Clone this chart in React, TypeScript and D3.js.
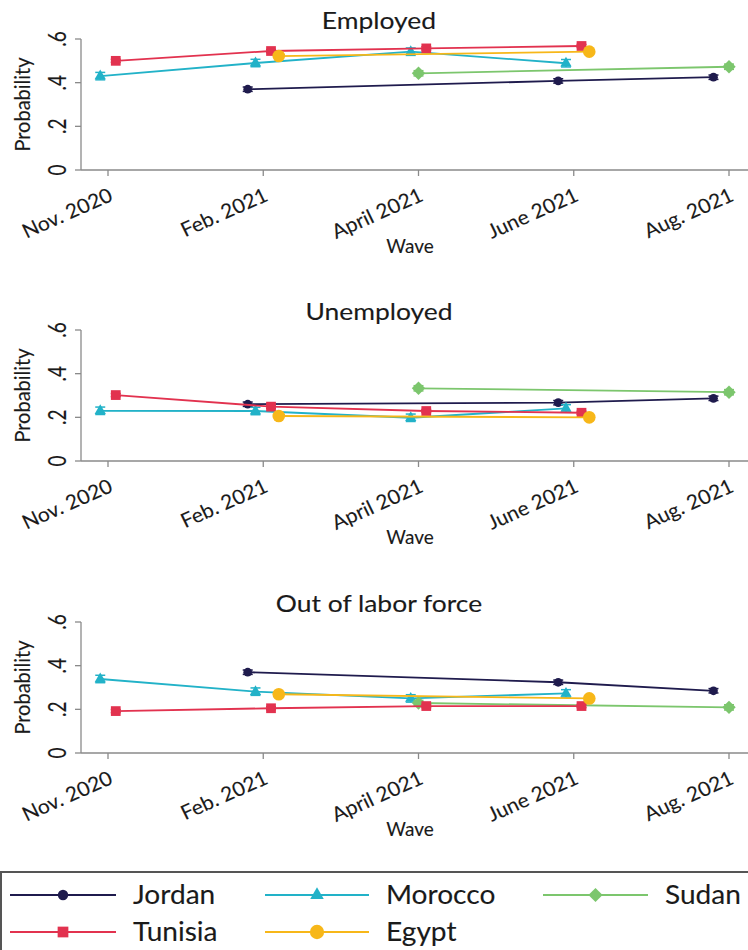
import React from 'react';
import * as d3 from 'd3';

const waves = ['Nov. 2020', 'Feb. 2021', 'April 2021', 'June 2021', 'Aug. 2021'];
const countries = ['Jordan', 'Tunisia', 'Morocco', 'Egypt', 'Sudan'];
const colors = ['#1f1b4d', '#e2324f', '#22b2c8', '#f7b719', '#7cc66d'];
const panelTitles = ['Employed', 'Unemployed', 'Out of labor force'];
const yTicks = [0, 0.2, 0.4, 0.6];

// rows follow `countries`, columns follow `waves`; null = no survey that wave
const employed = [
  [null, 0.37, null, 0.408, 0.425],
  [0.5, 0.545, 0.557, 0.568, null],
  [0.43, 0.49, 0.542, 0.489, null],
  [null, 0.522, null, 0.542, null],
  [null, null, 0.443, null, 0.473],
];
const unemployed = [
  [null, 0.26, null, 0.267, 0.287],
  [0.302, 0.249, 0.229, 0.221, null],
  [0.23, 0.229, 0.198, 0.241, null],
  [null, 0.206, null, 0.2, null],
  [null, null, 0.333, null, 0.315],
];
const outOfLF = [
  [null, 0.37, null, 0.324, 0.285],
  [0.192, 0.205, 0.215, 0.215, null],
  [0.339, 0.281, 0.25, 0.273, null],
  [null, 0.269, null, 0.25, null],
  [null, null, 0.229, null, 0.209],
];
// half width of the confidence interval, per country
const ciHalf = [0.01, 0.007, 0.017, 0.007, 0.012];

const panels = [employed, unemployed, outOfLF];

const W = 748;
const H = 950;
const FONT = 'Lato, "Open Sans", sans-serif';
const INK = '#1a1a1a';
const dodge = [-0.1, 0.05, -0.05, 0.1, 0];
const drawOrder = [0, 2, 4, 1, 3];

// square turned 45 degrees (Stata's diamond)
const diamond = {
  draw(ctx: any, size: number) {
    const r = Math.sqrt(size / 2);
    ctx.moveTo(0, -r);
    ctx.lineTo(r, 0);
    ctx.lineTo(0, r);
    ctx.lineTo(-r, 0);
    ctx.closePath();
  },
};
const symbols: any[] = [d3.symbolCircle, d3.symbolSquare, d3.symbolTriangle, d3.symbolCircle, diamond];
const plotSizes = [60, 95, 55, 125, 90];
const legendSizes = [85, 115, 80, 160, 100];

const x = d3.scaleLinear().domain([0, 4]).range([108, 729]);
const panelBase = [170, 461, 753];

const tf = (px: number, py: number, rot = 0, sx = 1) =>
  `translate(${px},${py}) scale(${sx},1) rotate(${rot})`;

const txt = { fill: INK, stroke: INK, strokeWidth: 0.12 };

function Panel({ data, title, y0 }: { data: (number | null)[][]; title: string; y0: number }) {
  const y = d3.scaleLinear().domain([0, 0.6]).range([y0, y0 - 131]);
  const line = d3.line<[number, number]>().x(d => d[0]).y(d => d[1]);
  return (
    <g>
      <text transform={tf(379, y0 - 141, 0, 1.15)} textAnchor="middle" fontSize={23} {...txt}>{title}</text>
      {/* axes */}
      <line x1={81} x2={W} y1={y0} y2={y0} stroke="#8a8a8a" strokeWidth={1.3} />
      <line x1={81} x2={81} y1={y0} y2={y(0.6)} stroke="#8a8a8a" strokeWidth={1.3} />
      {yTicks.map(t => (
        <g key={t}>
          <line x1={75} x2={81} y1={y(t)} y2={y(t)} stroke="#8a8a8a" strokeWidth={1.3} />
          <text transform={tf(66, y(t), -90, 1.3)} textAnchor="middle" fontSize={19} {...txt}>
            {t === 0 ? '0' : d3.format('.1f')(t).replace(/^0/, '')}
          </text>
        </g>
      ))}
      <text transform={tf(30, y(0.3), -90, 1.1)} textAnchor="middle" fontSize={20} {...txt}>Probability</text>
      {waves.map((w, i) => (
        <g key={w}>
          <line x1={x(i)} x2={x(i)} y1={y0} y2={y0 + 6} stroke="#8a8a8a" strokeWidth={1.3} />
          <text transform={tf(x(i) + 6, y0 + 30, -25, 1.05)} textAnchor="end" fontSize={20} {...txt}>{w}</text>
        </g>
      ))}
      <text transform={tf(410, y0 + 83)} textAnchor="middle" fontSize={19} {...txt}>Wave</text>
      {/* series */}
      {drawOrder.map(c => {
        const pts: [number, number][] = [];
        const vals: number[] = [];
        data[c].forEach((v, i) => {
          if (v != null) {
            pts.push([x(i + dodge[c]), y(v)]);
            vals.push(v);
          }
        });
        const col = colors[c];
        const sym = d3.symbol().type(symbols[c]).size(plotSizes[c])();
        return (
          <g key={c}>
            <path d={line(pts) ?? ''} fill="none" stroke={col} strokeWidth={1.8} />
            {pts.map(([px, py], k) => {
              const lo = y(vals[k] - ciHalf[c]);
              const hi = y(vals[k] + ciHalf[c]);
              return (
                <g key={k}>
                  <line x1={px} x2={px} y1={lo} y2={hi} stroke={col} strokeWidth={1.5} />
                  <line x1={px - 5} x2={px + 5} y1={lo} y2={lo} stroke={col} strokeWidth={1.5} />
                  <line x1={px - 5} x2={px + 5} y1={hi} y2={hi} stroke={col} strokeWidth={1.5} />
                  <path d={sym ?? ''} transform={`translate(${px},${py})`} fill={col} />
                </g>
              );
            })}
          </g>
        );
      })}
    </g>
  );
}

function Legend() {
  const cols = [
    { x1: 10, x2: 116, tx: 133 },
    { x1: 265, x2: 369, tx: 386 },
    { x1: 543, x2: 648, tx: 665 },
  ];
  const rows = [895, 932];
  // legend slots: [column, row]
  const slots = [
    [0, 0],
    [0, 1],
    [1, 0],
    [1, 1],
    [2, 0],
  ];
  return (
    <g>
      <line x1={0} x2={W} y1={872} y2={872} stroke="#555" strokeWidth={2} />
      <line x1={1} x2={1} y1={872} y2={H} stroke="#555" strokeWidth={2} />
      {countries.map((name, c) => {
        const cl = cols[slots[c][0]];
        const ry = rows[slots[c][1]];
        const sym = d3.symbol().type(symbols[c]).size(legendSizes[c])();
        return (
          <g key={name}>
            <line x1={cl.x1} x2={cl.x2} y1={ry} y2={ry} stroke={colors[c]} strokeWidth={2} />
            <path d={sym ?? ''} transform={`translate(${(cl.x1 + cl.x2) / 2},${ry})`} fill={colors[c]} />
            <text transform={tf(cl.tx, ry + 9, 0, 1.08)} fontSize={26} {...txt}>{name}</text>
          </g>
        );
      })}
    </g>
  );
}

export default function App() {
  return (
    <svg
      width={W}
      height={H}
      style={{ position: 'absolute', left: 0, top: 0, background: '#fff' }}
      fontFamily={FONT}
    >
      <rect width={W} height={H} fill="#fff" />
      {panels.map((p, i) => (
        <Panel key={i} data={p} title={panelTitles[i]} y0={panelBase[i]} />
      ))}
      <Legend />
    </svg>
  );
}
